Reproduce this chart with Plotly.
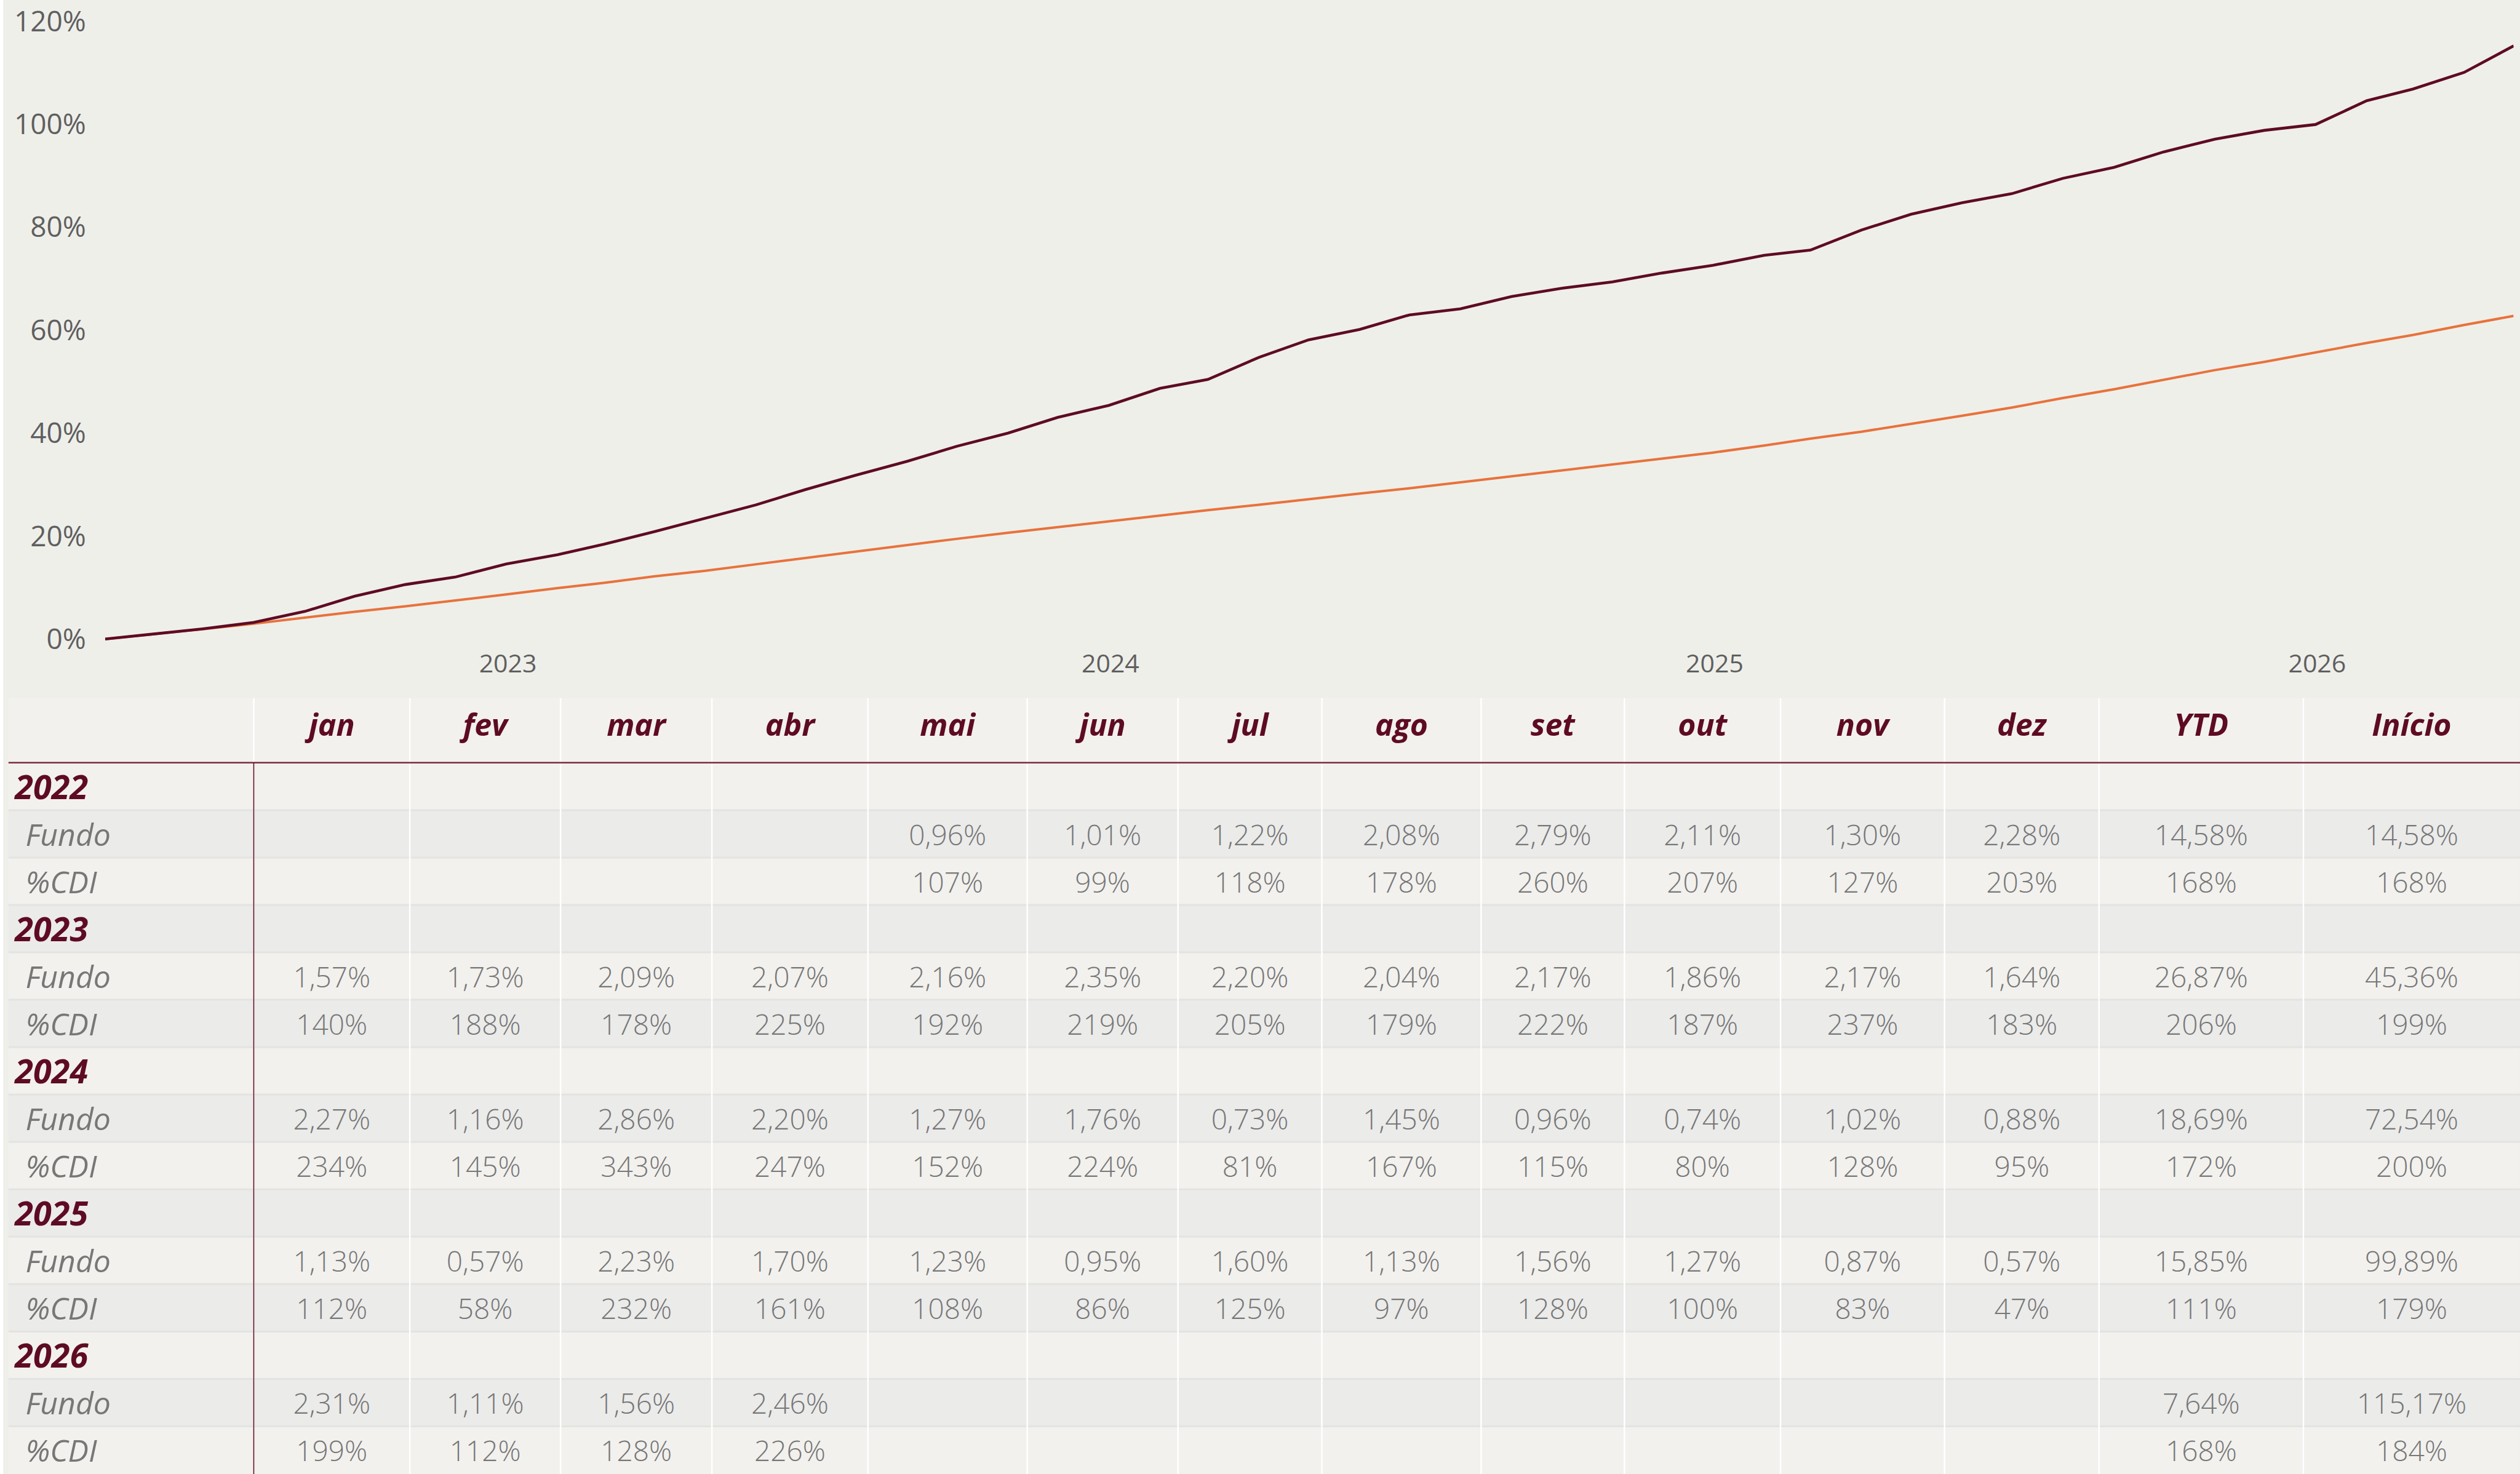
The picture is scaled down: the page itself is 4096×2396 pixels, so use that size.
import calendar
import plotly.graph_objects as go

# ---------------------------------------------------------------- data
years = [2022, 2023, 2024, 2025, 2026]
months = ["jan", "fev", "mar", "abr", "mai", "jun", "jul", "ago", "set", "out", "nov", "dez"]

fundo_2022 = [None, None, None, None, 0.96, 1.01, 1.22, 2.08, 2.79, 2.11, 1.30, 2.28]
fundo_2023 = [1.57, 1.73, 2.09, 2.07, 2.16, 2.35, 2.20, 2.04, 2.17, 1.86, 2.17, 1.64]
fundo_2024 = [2.27, 1.16, 2.86, 2.20, 1.27, 1.76, 0.73, 1.45, 0.96, 0.74, 1.02, 0.88]
fundo_2025 = [1.13, 0.57, 2.23, 1.70, 1.23, 0.95, 1.60, 1.13, 1.56, 1.27, 0.87, 0.57]
fundo_2026 = [2.31, 1.11, 1.56, 2.46, None, None, None, None, None, None, None, None]

pctcdi_2022 = [None, None, None, None, 107, 99, 118, 178, 260, 207, 127, 203]
pctcdi_2023 = [140, 188, 178, 225, 192, 219, 205, 179, 222, 187, 237, 183]
pctcdi_2024 = [234, 145, 343, 247, 152, 224, 81, 167, 115, 80, 128, 95]
pctcdi_2025 = [112, 58, 232, 161, 108, 86, 125, 97, 128, 100, 83, 47]
pctcdi_2026 = [199, 112, 128, 226, None, None, None, None, None, None, None, None]

ytd_fundo = [14.58, 26.87, 18.69, 15.85, 7.64]
inicio_fundo = [14.58, 45.36, 72.54, 99.89, 115.17]
ytd_pctcdi = [168, 206, 172, 111, 168]
inicio_pctcdi = [168, 199, 200, 179, 184]

inception_date = "2022-05-02"
y_ticks = [0, 20, 40, 60, 80, 100, 120]

fundo_rows = [fundo_2022, fundo_2023, fundo_2024, fundo_2025, fundo_2026]
pctcdi_rows = [pctcdi_2022, pctcdi_2023, pctcdi_2024, pctcdi_2025, pctcdi_2026]

# cumulative series built from the monthly table values
dates, fund_cum, cdi_cum = [inception_date], [0.0], [0.0]
f_idx, c_idx = 1.0, 1.0
for yr, frow, prow in zip(years, fundo_rows, pctcdi_rows):
    for m, (fv, pv) in enumerate(zip(frow, prow), start=1):
        if fv is None:
            continue
        f_idx *= 1 + fv / 100
        c_idx *= 1 + (fv / (pv / 100)) / 100
        dates.append(f"{yr}-{m:02d}-{calendar.monthrange(yr, m)[1]:02d}")
        fund_cum.append((f_idx - 1) * 100)
        cdi_cum.append((c_idx - 1) * 100)

# ---------------------------------------------------------------- layout constants
W, H = 4096, 2396
REF_W, REF_H = 4747, 2777
BG = "#efefea"
LIGHT = "#f2f1ee"
DARK = "#ebebea"
SEP = "#e3e3e1"
MAROON = "#5e0b24"
ORANGE = "#e8723b"
GRAY_VAL = "#777777"
GRAY_AX = "#5f5f5f"
FONT = "Open Sans"

# chart geometry (reference pixels)
X_START_REF, X_END_REF = 198, 4735
Y0_REF, Y120_REF = 1204, 40
px_per_unit = (Y0_REF - Y120_REF) / 120.0
Y_MIN, Y_MAX = -2.0, 121.0
ybot = Y0_REF - Y_MIN * px_per_unit
ytop = Y0_REF - Y_MAX * px_per_unit

# table geometry (reference pixels)
COL_EDGES = [16, 478, 772, 1056, 1341, 1635, 1935, 2219, 2490, 2790, 3060, 3354, 3663, 3954, 4339, 4747]
TABLE_TOP, HEADER_LINE, ROW_H = 1315, 1437, 89.3
hdr = (HEADER_LINE - TABLE_TOP) / ROW_H
y_bottom_val = (REF_H - HEADER_LINE) / ROW_H
TXT_DY = 0.09   # optical vertical centring of text in a row

fig = go.Figure()

# ---------------------------------------------------------------- lines
fig.add_trace(go.Scatter(x=dates, y=cdi_cum, mode="lines", name="CDI",
                         line=dict(color=ORANGE, width=4), hoverinfo="skip",
                         xaxis="x", yaxis="y"))
fig.add_trace(go.Scatter(x=dates, y=fund_cum, mode="lines", name="Fundo",
                         line=dict(color=MAROON, width=4.6), hoverinfo="skip",
                         xaxis="x", yaxis="y"))

# ---------------------------------------------------------------- table
col_labels = months + ["YTD", "Início"]
n_rows = 3 * len(years)
row_edges = [-hdr] + list(range(0, n_rows + 1))
z = [[0] * (len(COL_EDGES) - 1)] + [[r % 2] * (len(COL_EDGES) - 1) for r in range(n_rows)]
fig.add_trace(go.Heatmap(x=COL_EDGES, y=row_edges, z=z, zmin=0, zmax=1,
                         colorscale=[[0, LIGHT], [1, DARK]], showscale=False,
                         hoverinfo="skip", xaxis="x2", yaxis="y2"))

centers = [(COL_EDGES[j] + COL_EDGES[j + 1]) / 2 for j in range(1, len(COL_EDGES) - 1)]

# header labels
fig.add_trace(go.Scatter(x=centers, y=[-hdr / 2 - 0.05] * len(centers), mode="text",
                         text=[f"<b><i>{c}</i></b>" for c in col_labels],
                         textposition="middle center", cliponaxis=False,
                         textfont=dict(family=FONT, size=50, color=MAROON),
                         hoverinfo="skip", xaxis="x2", yaxis="y2"))

def pct2(v):
    return "" if v is None else f"{v:.2f}".replace(".", ",") + "%"

def pct0(v):
    return "" if v is None else f"{v:.0f}%"

yr_x, yr_y, yr_t = [], [], []
lb_x, lb_y, lb_t = [], [], []
vx, vy, vt = [], [], []
for i, yr in enumerate(years):
    r0 = 3 * i
    yr_x.append(28); yr_y.append(r0 + 0.5 + TXT_DY); yr_t.append(f"<b><i>{yr}</i></b>")
    lb_x += [48, 48]; lb_y += [r0 + 1.5 + TXT_DY, r0 + 2.5 + TXT_DY]
    lb_t += ["<i>Fundo</i>", "<i>%CDI</i>"]
    frow = [pct2(v) for v in fundo_rows[i]] + [pct2(ytd_fundo[i]), pct2(inicio_fundo[i])]
    prow = [pct0(v) for v in pctcdi_rows[i]] + [pct0(ytd_pctcdi[i]), pct0(inicio_pctcdi[i])]
    for j, (a, b) in enumerate(zip(frow, prow)):
        if a:
            vx.append(centers[j]); vy.append(r0 + 1.5 + TXT_DY); vt.append(a)
        if b:
            vx.append(centers[j]); vy.append(r0 + 2.5 + TXT_DY); vt.append(b)

fig.add_trace(go.Scatter(x=yr_x, y=yr_y, mode="text", text=yr_t, textposition="middle right",
                         cliponaxis=False,
                         textfont=dict(family=FONT, size=54, color=MAROON),
                         hoverinfo="skip", xaxis="x2", yaxis="y2"))
fig.add_trace(go.Scatter(x=lb_x, y=lb_y, mode="text", text=lb_t, textposition="middle right",
                         cliponaxis=False,
                         textfont=dict(family=FONT, size=50, color=GRAY_VAL),
                         hoverinfo="skip", xaxis="x2", yaxis="y2"))
fig.add_trace(go.Scatter(x=vx, y=vy, mode="text", text=vt, textposition="middle center",
                         cliponaxis=False,
                         textfont=dict(family=FONT, size=46, color=GRAY_VAL, weight=300),
                         hoverinfo="skip", xaxis="x2", yaxis="y2"))

# grid lines of the table
shapes = []
shapes.append(dict(type="rect", xref="paper", yref="paper", x0=0, x1=6 / REF_W, y0=0, y1=1,
                   fillcolor="white", line=dict(width=0), layer="above"))
for k in range(1, n_rows):
    shapes.append(dict(type="line", xref="x2", yref="y2", x0=COL_EDGES[0], x1=COL_EDGES[-1],
                       y0=k, y1=k, line=dict(color=SEP, width=3)))
for e in COL_EDGES[1:-1]:
    shapes.append(dict(type="line", xref="x2", yref="y2", x0=e, x1=e,
                       y0=-hdr, y1=y_bottom_val, line=dict(color="white", width=2.5)))
shapes.append(dict(type="line", xref="x2", yref="y2", x0=COL_EDGES[0], x1=COL_EDGES[-1],
                   y0=0, y1=0, line=dict(color="#7a2a3e", width=2.5)))
shapes.append(dict(type="line", xref="x2", yref="y2", x0=COL_EDGES[1], x1=COL_EDGES[1],
                   y0=0, y1=y_bottom_val, line=dict(color=MAROON, width=1.6)))

fig.update_layout(
    width=W, height=H,
    margin=dict(l=0, r=0, t=0, b=0, autoexpand=False),
    paper_bgcolor=BG, plot_bgcolor=BG,
    showlegend=False,
    shapes=shapes,
    xaxis=dict(type="date", domain=[X_START_REF / REF_W, X_END_REF / REF_W],
               range=[dates[0], dates[-1]], dtick="M12", tick0="2023-01-01",
               tickformat="%Y", showgrid=False, zeroline=False, showline=False,
               ticks="", automargin=False, ticklabelstandoff=-5,
               tickfont=dict(family=FONT, size=41, color=GRAY_AX), anchor="y"),
    yaxis=dict(domain=[1 - ybot / REF_H, 1 - ytop / REF_H], range=[Y_MIN, Y_MAX],
               tickvals=y_ticks, ticktext=[f"{v}%" for v in y_ticks],
               showgrid=False, zeroline=False, showline=False, ticks="",
               ticklabelstandoff=30, automargin=False,
               tickfont=dict(family=FONT, size=46, color=GRAY_AX), anchor="x"),
    xaxis2=dict(domain=[0, 1], range=[0, REF_W], visible=False, automargin=False, anchor="y2"),
    yaxis2=dict(domain=[0, 1 - TABLE_TOP / REF_H], range=[y_bottom_val, -hdr],
                visible=False, automargin=False, anchor="x2"),
)

fig.write_html("out.html", config={"displayModeBar": False},
               post_script="document.body.style.margin='0px';")
